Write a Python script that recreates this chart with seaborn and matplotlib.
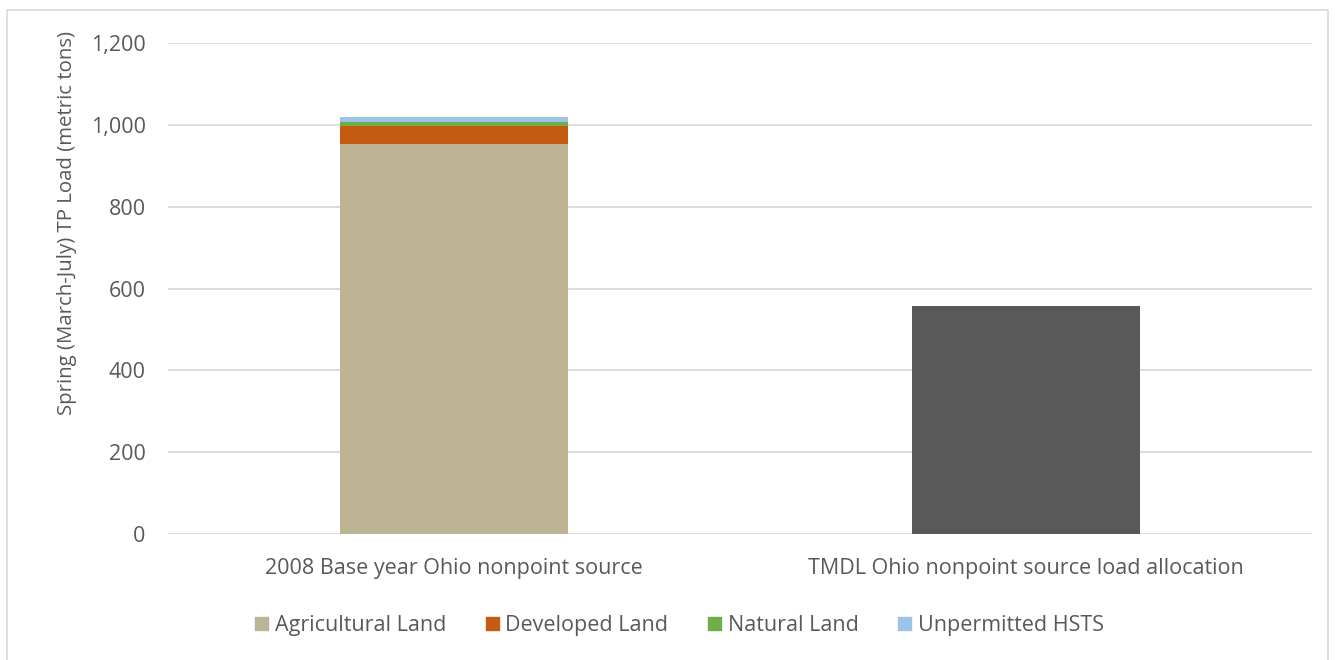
import matplotlib
matplotlib.use("Agg")
import matplotlib.pyplot as plt
from matplotlib.patches import Rectangle
from matplotlib.ticker import FuncFormatter
import numpy as np
import pandas as pd
import seaborn as sns

# Spring (March-July) total phosphorus loads, metric tons
categories = ["2008 Base year Ohio nonpoint source",
              "TMDL Ohio nonpoint source load allocation"]
sources = ["Agricultural Land", "Developed Land", "Natural Land", "Unpermitted HSTS"]
agricultural = [953, 0]
developed = [43, 0]
natural = [11, 0]
hsts = [12, 0]
allocation = [0, 557]

source_colors = ["#bdb395", "#c55a11", "#70ad47", "#9dc3e6"]
allocation_color = "#595959"
text_color = "#595959"

sns.set_theme(style="white")
plt.rcParams["font.family"] = ["Open Sans", "DejaVu Sans"]

fig = plt.figure(figsize=(13.35, 6.6), dpi=100)
ax = fig.add_axes([0.1258, 0.1909, 0.857, 0.7439])

layers = np.array([agricultural, developed, natural, hsts], dtype=float)
tops = np.cumsum(layers, axis=0)

# stacked bars: draw cumulative totals from the top layer down
for i in range(len(sources) - 1, -1, -1):
    df = pd.DataFrame({"category": categories, "load": tops[i]})
    sns.barplot(data=df, x="category", y="load", color=source_colors[i],
                width=0.4, saturation=1, linewidth=0, ax=ax, label=sources[i])

df_alloc = pd.DataFrame({"category": categories, "load": allocation})
sns.barplot(data=df_alloc, x="category", y="load", color=allocation_color,
            width=0.4, saturation=1, linewidth=0, ax=ax)

ax.set_ylim(0, 1200)
ax.set_xlim(-0.5, 1.5)
ax.set_yticks(np.arange(0, 1201, 200))
ax.yaxis.set_major_formatter(FuncFormatter(lambda v, p: f"{int(v):,}"))
ax.grid(axis="y", color="#d9d9d9", linewidth=1.3)
ax.set_axisbelow(True)
for s in ax.spines.values():
    s.set_visible(False)
ax.tick_params(axis="both", length=0, labelsize=15.5, colors=text_color)
ax.tick_params(axis="y", pad=16)
ax.tick_params(axis="x", pad=17)
ax.set_xlabel("")
ax.set_ylabel("Spring (March-July) TP Load (metric tons)", fontsize=14.7,
              color=text_color)
ax.yaxis.set_label_coords(-0.0795, 0.633)

if ax.get_legend() is not None:
    ax.get_legend().remove()
handles = [Rectangle((0, 0), 1, 1, color=c) for c in source_colors]
fig.legend(handles, sources, loc="center", bbox_to_anchor=(0.509, 0.052), ncol=4,
           frameon=False, fontsize=15.5, labelcolor=text_color,
           handlelength=0.6, handleheight=0.6, handletextpad=0.3, columnspacing=1.85)

# chart border
fig.patches.append(Rectangle((0.005, -0.01), 0.99, 0.995, transform=fig.transFigure,
                             fill=False, edgecolor="#d9d9d9", linewidth=1.2))

fig.savefig("out.png", dpi=100, facecolor="white")
